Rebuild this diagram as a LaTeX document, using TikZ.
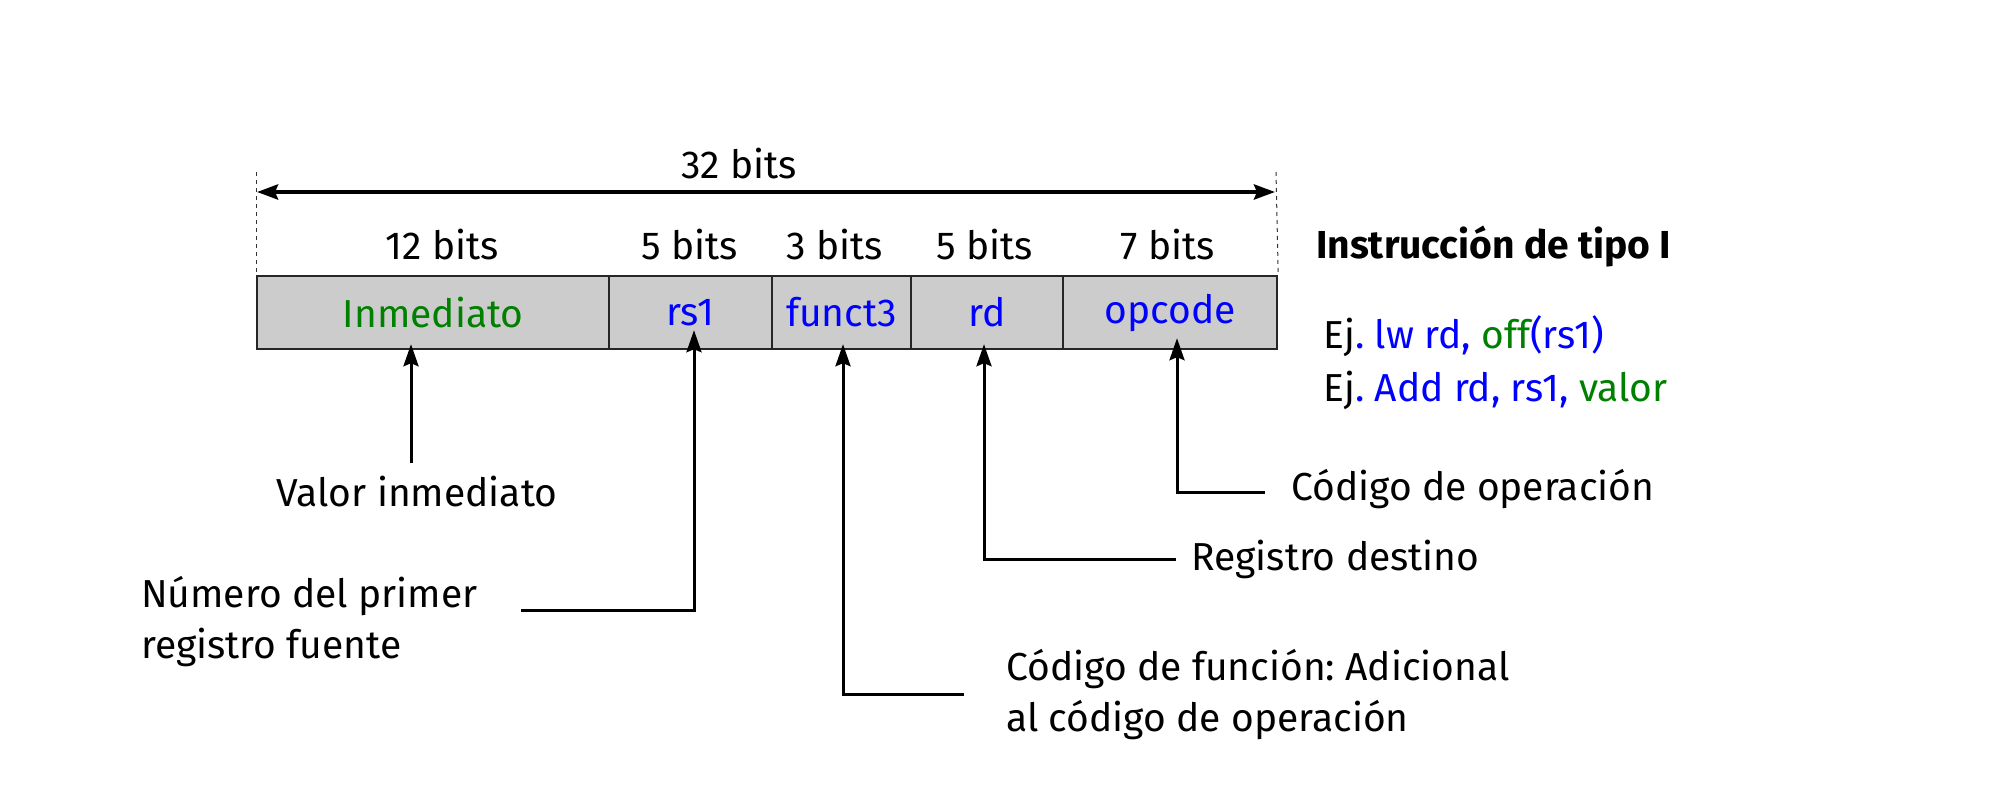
\documentclass[tikz,border=0pt]{standalone}
\usepackage{fontspec}
\setmainfont{Fira Sans}
\usetikzlibrary{arrows.meta}
\frenchspacing
\definecolor{fgreen}{RGB}{0,128,0}
\definecolor{fblue}{RGB}{0,0,255}
\definecolor{fgray}{RGB}{204,204,204}
\tikzset{
  field/.style={draw=black!85, fill=fgray, line width=2.2pt, minimum height=73pt, inner sep=0pt, anchor=north west},
  lbl/.style={inner sep=0pt, font=\fontsize{39}{51}\selectfont},
  conn/.style={line width=3pt, -{Stealth[length=22pt,width=15pt,inset=3pt]}},
  dim/.style={line width=4pt, {Stealth[length=21pt,width=15pt,inset=3pt]}-{Stealth[length=21pt,width=15pt,inset=3pt]}},
  guide/.style={line width=1pt, dash pattern=on 4pt off 4pt, black!80}
}
\begin{document}
\begin{tikzpicture}[x=1pt,y=-1pt]
\useasboundingbox (0,0) rectangle (2004,811);
% fields
\node[field, minimum width=352pt] (imm) at (256,275) {};
\node[field, minimum width=163pt] (rs1) at (608,275) {};
\node[field, minimum width=139pt] (f3) at (771,275) {};
\node[field, minimum width=152pt] (rd) at (910,275) {};
\node[field, minimum width=214pt] (op) at (1062,275) {};
\node[lbl, text=fgreen] at (imm.center) {Inmediato};
\node[lbl, text=fblue] at (rs1.center) {rs1};
\node[lbl, text=fblue] at (f3.center) {funct3};
\node[lbl, text=fblue] at (rd.center) {rd};
\node[lbl, text=fblue] at (op.center) {opcode};
% bit widths
\node[lbl] (b12) at (442,245) {12 bits};
\node[lbl] (b5a) at (690,245) {5 bits};
\node[lbl] (b3) at (835,245) {3 bits};
\node[lbl] (b5b) at (985,245) {5 bits};
\node[lbl] (b7) at (1168,245) {7 bits};
% 32 bits dimension
\coordinate (gl) at (256,172);
\coordinate (gr) at (1276,172);
\draw[guide] (gl) -- (imm.north west);
\draw[guide] (gr) -- (op.north east);
\node[lbl] (b32) at (739,164) {32 bits};
\coordinate (dl) at (257,192);
\coordinate (dr) at (1275,192);
\draw[dim] (dl) -- (dr);
% right texts
\node[lbl, anchor=west, font=\fontsize{39}{51}\selectfont\bfseries] (title) at (1316,247) {Instrucción de tipo I};
\node[lbl, anchor=west] (ej1) at (1323,336) {Ej\textcolor{fblue}{. lw rd, }\textcolor{fgreen}{off}\textcolor{fblue}{(rs1)}};
\node[lbl, anchor=west] (ej2) at (1323,390) {Ej\textcolor{fblue}{. Add rd, rs1, }\textcolor{fgreen}{valor}};
% descriptions
\node[lbl] (vi) at (417,492) {Valor inmediato};
\node[lbl, anchor=west, align=left] (nr) at (141,622) {Número del primer\\registro fuente};
\node[lbl, anchor=west, align=left] (cf) at (1006,695) {Código de función: Adicional\\al código de operación};
\node[lbl, anchor=west] (rdest) at (1191,559) {Registro destino};
\node[lbl, anchor=west] (cop) at (1291,489) {Código de operación};
% connectors
\coordinate (c1) at (411,463);
\draw[conn] (c1) -- ([yshift=6pt]c1 |- imm.south);
\coordinate (c2a) at (521,610);
\coordinate (c2b) at (694,610);
\draw[conn] (c2a) -- (c2b) -- ([yshift=20pt]c2b |- rs1.south);
\coordinate (c3a) at (964,694);
\coordinate (c3b) at (843,694);
\draw[conn] (c3a) -- (c3b) -- ([yshift=6pt]c3b |- f3.south);
\coordinate (c4a) at (1176,559);
\coordinate (c4b) at (984,559);
\draw[conn] (c4a) -- (c4b) -- ([yshift=6pt]c4b |- rd.south);
\coordinate (c5a) at (1265,492);
\coordinate (c5b) at (1177,492);
\draw[conn] (c5a) -- (c5b) -- ([yshift=12pt]c5b |- op.south);
\end{tikzpicture}
\end{document}
